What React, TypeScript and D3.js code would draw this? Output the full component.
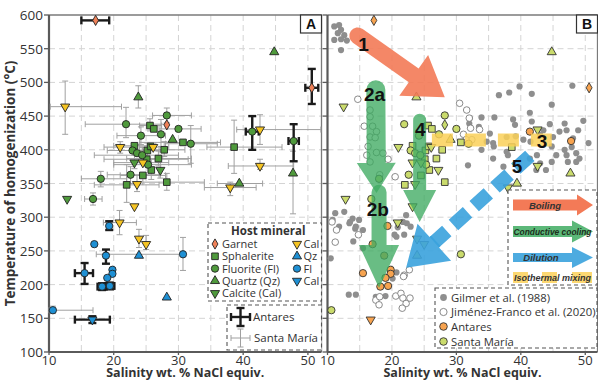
import * as d3 from 'd3';

// [salinity, Th, deposit (A = Antares, S = Santa María), xLo, xHi, yLo, yHi] — 0 means no bar
type Pt = [number, number, string, number, number, number, number];

const X_TICKS = [10, 20, 30, 40, 50];
const Y_TICKS = [100, 150, 200, 250, 300, 350, 400, 450, 500, 550, 600];
const X_GRID = [15, 20, 25, 30, 35, 40, 45, 50];
const Y_GRID = [150, 200, 250, 300, 350, 400, 450, 500, 550];

const GARNET: Pt[] = [
  [17.2, 592, 'A', 15.0, 19.3, 0, 0],
  [28.2, 437, 'S', 0, 0, 0, 0],
  [50.6, 492, 'A', 49.6, 51.6, 468, 520],
];
const SPHALERITE: Pt[] = [
  [25.6, 436, 'S', 24.0, 27.4, 428, 446],
  [26.2, 431, 'S', 0, 0, 0, 0],
  [30.7, 411, 'S', 24.0, 36.5, 0, 0],
  [38.6, 404, 'S', 34.4, 46.0, 365, 444],
  [23.2, 406, 'S', 20.0, 26.5, 0, 0],
  [25.2, 399, 'S', 0, 0, 388, 410],
  [25.7, 405, 'S', 0, 0, 0, 0],
  [27.8, 400, 'S', 24.5, 31.0, 390, 412],
  [25.1, 386, 'S', 18.5, 31.5, 0, 0],
  [26.9, 387, 'S', 22.0, 32.0, 376, 398],
  [25.8, 370, 'S', 0, 0, 356, 386],
  [24.5, 362, 'S', 21.0, 28.0, 0, 0],
  [28.2, 352, 'S', 24.5, 34.0, 340, 365],
  [22.0, 348, 'S', 17.0, 27.0, 322, 378],
];
const FLUORITE: Pt[] = [
  [21.9, 438, 'S', 15.6, 28.0, 418, 463],
  [28.2, 451, 'S', 26.0, 32.0, 440, 462],
  [30.0, 431, 'S', 27.0, 33.5, 0, 0],
  [24.2, 421, 'S', 20.5, 28.0, 408, 434],
  [27.3, 423, 'S', 0, 0, 405, 445],
  [31.9, 409, 'S', 28.0, 36.0, 380, 436],
  [22.9, 399, 'S', 19.0, 27.0, 0, 0],
  [23.6, 395, 'S', 0, 0, 0, 0],
  [24.4, 392, 'S', 17.0, 30.0, 380, 404],
  [25.3, 378, 'S', 20.0, 32.0, 0, 0],
  [22.6, 363, 'S', 19.0, 27.0, 350, 375],
  [18.0, 357, 'S', 15.0, 22.0, 345, 368],
  [16.8, 327, 'S', 15.5, 18.2, 318, 336],
  [41.4, 427, 'A', 40.4, 42.4, 400, 450],
  [47.8, 413, 'A', 47.0, 48.6, 383, 438],
];
const QUARTZ: Pt[] = [
  [23.8, 478, 'S', 0, 0, 462, 495],
  [44.8, 545, 'S', 0, 0, 0, 0],
  [29.1, 415, 'S', 0, 0, 0, 0],
  [39.4, 350, 'S', 36.0, 43.0, 0, 0],
  [47.7, 365, 'S', 0, 0, 305, 398],
];
const CALCITE: Pt[] = [
  [23.2, 381, 'S', 0, 0, 372, 392],
  [27.2, 370, 'S', 0, 0, 358, 388],
  [12.8, 327, 'S', 0, 0, 0, 0],
];
const CAL_YELLOW: Pt[] = [
  [12.5, 464, 'S', 10.2, 21.2, 423, 502],
  [21.0, 404, 'S', 18.5, 23.5, 395, 412],
  [26.1, 404, 'S', 24.0, 28.5, 0, 0],
  [24.5, 381, 'S', 20.0, 28.5, 0, 0],
  [23.6, 349, 'S', 0, 0, 338, 362],
  [23.2, 316, 'S', 0, 0, 0, 0],
  [38.0, 344, 'S', 34.0, 42.0, 332, 352],
  [42.6, 430, 'S', 39.0, 52.0, 408, 452],
  [42.6, 376, 'S', 37.7, 47.8, 371, 386],
  [20.9, 292, 'S', 18.4, 23.5, 274, 310],
  [23.9, 268, 'S', 0, 0, 255, 282],
  [25.0, 260, 'S', 0, 0, 252, 273],
];
const QZ_BLUE: Pt[] = [
  [23.9, 243, 'S', 0, 0, 0, 0],
  [28.2, 181, 'S', 0, 0, 0, 0],
];
const FL_BLUE: Pt[] = [
  [19.3, 287, 'A', 0, 0, 281, 294],
  [17.0, 260, 'A', 0, 0, 0, 0],
  [18.8, 243, 'A', 0, 0, 231, 252],
  [30.7, 245, 'S', 17.3, 30.7, 221, 270],
  [15.5, 217, 'A', 14.0, 16.8, 201, 232],
  [19.8, 222, 'A', 0, 0, 0, 0],
  [19.8, 216, 'A', 0, 0, 0, 0],
  [19.0, 210, 'A', 0, 0, 0, 0],
  [18.2, 197, 'A', 17.5, 18.9, 192, 202],
  [19.4, 198, 'A', 18.7, 20.1, 193, 203],
  [10.6, 162, 'S', 10.0, 16.8, 157, 168],
];
const CAL_BLUE: Pt[] = [[16.7, 148, 'A', 14.0, 19.4, 143, 153]];

// Panel B literature data
const GILMER: [number, number][] = [
  [11.05, 583], [11.8, 585], [12.1, 578], [11.6, 573], [12.6, 570], [11.05, 563], [12.1, 564], [13.0, 562], [12.1, 548],
  [36.6, 481], [38.2, 485], [39.8, 494], [41.7, 483], [48.0, 495], [44.8, 467], [33.9, 448], [35.9, 448], [32.1, 447],
  [32.0, 439], [38.8, 445], [39.1, 437], [41.4, 455], [41.7, 442], [44.5, 438], [46.8, 439], [49.7, 443], [45.0, 419],
  [43.5, 429], [46.0, 427], [47.1, 429], [48.9, 429], [34.7, 412], [35.7, 410], [40.4, 415], [41.5, 412], [44.8, 405],
  [46.8, 400], [47.9, 404], [45.5, 392], [47.1, 392], [48.6, 395], [35.7, 387], [38.0, 392], [41.4, 387], [44.8, 382],
  [47.3, 382], [48.6, 382], [43.0, 380], [31.8, 377], [37.3, 375], [43.9, 370], [33.5, 434], [35.2, 424], [37.8, 419],
  [39.2, 420], [43.0, 422], [42.4, 370], [33.9, 400], [35.8, 405], [37.8, 397], [42.5, 392], [49.1, 387], [48.1, 417],
  [50.5, 410],
  [12.6, 308], [13.9, 298], [13.4, 291], [14.9, 296], [14.4, 286], [15.5, 281], [10.8, 296], [11.8, 286], [20.9, 285],
  [21.7, 293], [22.2, 303], [22.9, 286], [21.9, 274], [20.4, 274], [15.5, 254], [10.5, 239], [11.2, 306], [13.5, 293],
  [14.3, 283], [14.0, 264], [20.7, 271], [22.3, 291], [13.3, 185], [14.4, 185], [17.5, 182], [19.0, 183], [20.7, 218],
  [20.1, 209],
];
const JIMENEZ: [number, number][] = [
  [14.7, 475], [16.6, 459], [16.6, 449], [15.7, 435], [17.0, 435], [17.6, 427], [16.6, 419], [17.4, 418], [16.3, 405],
  [17.6, 396], [18.6, 395], [16.1, 392], [16.6, 382], [19.4, 386], [18.1, 363], [20.5, 360], [30.5, 469], [31.6, 459],
  [32.0, 447], [32.2, 432], [33.6, 430], [31.1, 423], [32.4, 415], [31.5, 415], [10.7, 293], [11.4, 281], [11.2, 263],
  [14.8, 274], [21.9, 214], [22.7, 222], [21.8, 212], [20.6, 183], [21.4, 187], [21.7, 180], [22.2, 172], [21.6, 165],
  [22.8, 180], [17.5, 177], [18.0, 170], [18.1, 182],
];

// Process arrows of panel B: [x1, T1, x2, T2] in data units
const BOILING = [14.7, 569, 28.2, 478];
const COOLING_2A = [17.5, 489, 17.6, 336];
const COOLING_2B = [18.0, 337, 18.0, 195];
const COOLING_4 = [24.3, 444, 24.3, 293];
const MIXING_3 = [26.2, 44.8, 414.5];
const DILUTION_5 = [41.4, 391, 22.2, 225];
const ARROW_LABELS: [string, number, number][] = [
  ['1', 15.6, 547], ['2a', 17.3, 472], ['2b', 17.8, 302], ['4', 24.4, 420], ['3', 43.3, 402], ['5', 39.4, 365],
];

const SANS = "'Open Sans', 'Noto Sans', sans-serif";
const ARIAL = "'Liberation Sans', Arial, sans-serif";

const xA = d3.scaleLinear().domain([10, 52.1]).range([49, 321.5]);
const xB = d3.scaleLinear().domain([10, 51.9]).range([327.5, 597.5]);
const yS = d3.scaleLinear().domain([100, 600]).range([352, 15]);

const GREEN = '#4f9a3c';
const YELLOW = '#f5c423';
const BLUE = '#1e90d4';
const ORANGE = '#ef8158';
const ANT_FILL = '#f7a34f';
const SM_FILL = '#cadb6c';

const GROUPS = [
  { pts: GARNET, shape: 'diamond', fill: ORANGE },
  { pts: SPHALERITE, shape: 'square', fill: GREEN },
  { pts: FLUORITE, shape: 'circle', fill: GREEN },
  { pts: QUARTZ, shape: 'up', fill: GREEN },
  { pts: CALCITE, shape: 'down', fill: GREEN },
  { pts: CAL_YELLOW, shape: 'down', fill: YELLOW },
  { pts: QZ_BLUE, shape: 'up', fill: BLUE },
  { pts: FL_BLUE, shape: 'circle', fill: BLUE },
  { pts: CAL_BLUE, shape: 'down', fill: BLUE },
];

function symPath(shape: string) {
  const t =
    shape === 'circle' ? d3.symbolCircle
    : shape === 'square' ? d3.symbolSquare
    : shape === 'diamond' ? d3.symbolDiamond
    : d3.symbolTriangle;
  const size = shape === 'circle' ? 42 : shape === 'square' ? 44 : shape === 'diamond' ? 30 : 36;
  return d3.symbol().type(t).size(size)() as string;
}

function Marker({ x, y, shape, fill, stroke = '#222', sw = 0.9 }: any) {
  const rot = shape === 'down' ? ' rotate(180)' : '';
  return (
    <path d={symPath(shape)} transform={`translate(${x},${y})${rot}`} fill={fill} stroke={stroke} strokeWidth={sw} />
  );
}

function arrowPath(x1: number, y1: number, x2: number, y2: number, sw: number, hw: number, hl: number, round = true) {
  const L = Math.hypot(x2 - x1, y2 - y1);
  const ux = (x2 - x1) / L, uy = (y2 - y1) / L;
  const nx = -uy, ny = ux;
  const bx = x2 - ux * hl, by = y2 - uy * hl;
  const p = (a: number, b: number, k: number) => `${a + nx * k},${b + ny * k}`;
  const start = round
    ? `M${p(x1, y1, -sw / 2)} A${sw / 2},${sw / 2} 0 0 0 ${p(x1, y1, sw / 2)}`
    : `M${p(x1, y1, -sw / 2)} L${p(x1, y1, sw / 2)}`;
  return `${start} L${p(bx, by, sw / 2)} L${p(bx, by, hw / 2)} L${x2},${y2} L${p(bx, by, -hw / 2)} L${p(bx, by, -sw / 2)} Z`;
}

function ErrorBars({ x, pts, thick }: any) {
  const col = thick ? '#1b1b1b' : '#a0a0a0';
  const w = thick ? 2.4 : 1;
  const cap = thick ? 4 : 3;
  return (
    <g stroke={col} strokeWidth={w}>
      {pts.map((d: Pt, i: number) => {
        const cx = x(d[0]), cy = yS(d[1]);
        return (
          <g key={i}>
            {d[3] > 0 && (
              <>
                <line x1={x(d[3])} x2={x(d[4])} y1={cy} y2={cy} />
                <line x1={x(d[3])} x2={x(d[3])} y1={cy - cap} y2={cy + cap} />
                <line x1={x(d[4])} x2={x(d[4])} y1={cy - cap} y2={cy + cap} />
              </>
            )}
            {d[5] > 0 && (
              <>
                <line x1={cx} x2={cx} y1={yS(d[5])} y2={yS(d[6])} />
                <line x1={cx - cap} x2={cx + cap} y1={yS(d[5])} y2={yS(d[5])} />
                <line x1={cx - cap} x2={cx + cap} y1={yS(d[6])} y2={yS(d[6])} />
              </>
            )}
          </g>
        );
      })}
    </g>
  );
}

function Frame({ x, letter, yLabels }: any) {
  const [x0, x1] = x.range();
  const top = yS(600), bot = yS(100);
  return (
    <g>
      <rect x={x0} y={top} width={x1 - x0} height={bot - top} fill='#fff' />
      <g stroke='#d4d4d4' strokeWidth={1} strokeDasharray='6 4'>
        {X_GRID.map((v) => (
          <line key={'gx' + v} x1={x(v)} x2={x(v)} y1={top} y2={bot} />
        ))}
        {Y_GRID.map((v) => (
          <line key={'gy' + v} x1={x0} x2={x1} y1={yS(v)} y2={yS(v)} />
        ))}
      </g>
      <line x1={x0} x2={x1} y1={top} y2={top} stroke='#7a7a7a' strokeWidth={1.3} />
      <line x1={x1} x2={x1} y1={top} y2={bot} stroke='#7a7a7a' strokeWidth={1.3} />
      <line x1={x0} x2={x0} y1={top} y2={bot} stroke='#5a5a5a' strokeWidth={2.2} />
      <line x1={x0} x2={x1} y1={bot} y2={bot} stroke='#5a5a5a' strokeWidth={2.2} />
      {Y_TICKS.map((v) => (
        <line key={'ty' + v} x1={x0 - 5} x2={x0} y1={yS(v)} y2={yS(v)} stroke='#5a5a5a' strokeWidth={1.3} />
      ))}
      {X_TICKS.map((v) => (
        <line key={'tx' + v} x1={x(v)} x2={x(v)} y1={bot} y2={bot + 3} stroke='#5a5a5a' strokeWidth={1.3} />
      ))}
      {yLabels &&
        Y_TICKS.map((v) => (
          <text key={'ly' + v} x={x0 - 6} y={yS(v) + 5} textAnchor='end' fontSize={13.5} fill='#333' fontFamily={SANS}>
            {v}
          </text>
        ))}
      {X_TICKS.map((v) => (
        <text key={'lx' + v} x={x(v)} y={364.5} textAnchor='middle' fontSize={13} fill='#333' fontFamily={SANS}>
          {v}
        </text>
      ))}
      <text x={(x0 + x1) / 2} y={377} textAnchor='middle' fontSize={12.5} fontWeight='bold' fill='#333' fontFamily={SANS}>
        Salinity wt. % NaCl equiv.
      </text>
      <rect x={x1 - 21} y={top} width={21} height={18} fill='#fff' stroke='#333' strokeWidth={1.2} />
      <text x={x1 - 10.5} y={top + 14} textAnchor='middle' fontSize={14} fontWeight='bold' fill='#111' fontFamily={ARIAL}>
        {letter}
      </text>
    </g>
  );
}

function PanelA() {
  return (
    <g>
      <Frame x={xA} letter='A' yLabels />
      {GROUPS.map((g, i) => (
        <ErrorBars key={'t' + i} x={xA} pts={g.pts.filter((d) => d[2] === 'S')} thick={false} />
      ))}
      {GROUPS.map((g, i) => (
        <ErrorBars key={'k' + i} x={xA} pts={g.pts.filter((d) => d[2] === 'A')} thick />
      ))}
      {GROUPS.map((g, i) =>
        g.pts.map((d, j) => <Marker key={i + '-' + j} x={xA(d[0])} y={yS(d[1])} shape={g.shape} fill={g.fill} />)
      )}
      {/* Host mineral legend */}
      <rect x={208} y={223} width={113.5} height={78} fill='#fff' stroke='#555' strokeDasharray='4 3' strokeWidth={1.1} />
      <text x={231} y={235} fontSize={11.5} fontWeight='bold' fill='#333' fontFamily={SANS}>
        Host mineral
      </text>
      {[
        ['Garnet', 'diamond', ORANGE],
        ['Sphalerite', 'square', GREEN],
        ['Fluorite (Fl)', 'circle', GREEN],
        ['Quartz (Qz)', 'up', GREEN],
        ['Calcite (Cal)', 'down', GREEN],
      ].map(([t, s, f], i) => (
        <g key={t}>
          <Marker x={215} y={244 + i * 12.3} shape={s} fill={f} />
          <text x={222} y={248 + i * 12.3} fontSize={11} fill='#333' fontFamily={SANS}>
            {t}
          </text>
        </g>
      ))}
      {[
        ['Cal', 'down', YELLOW],
        ['Qz', 'up', BLUE],
        ['Fl', 'circle', BLUE],
        ['Cal', 'down', BLUE],
      ].map(([t, s, f], i) => (
        <g key={'r' + i}>
          <Marker x={297} y={244 + i * 12.3} shape={s} fill={f} />
          <text x={303.5} y={248 + i * 12.3} fontSize={11} fill='#333' fontFamily={SANS}>
            {t}
          </text>
        </g>
      ))}
      {/* Error-bar legend */}
      <rect x={227} y={305} width={94.5} height={45} fill='#fff' stroke='#555' strokeDasharray='4 3' strokeWidth={1.1} />
      <g stroke='#1b1b1b' strokeWidth={2.4}>
        <line x1={231} x2={250} y1={317} y2={317} />
        <line x1={231} x2={231} y1={313} y2={321} />
        <line x1={250} x2={250} y1={313} y2={321} />
        <line x1={240.5} x2={240.5} y1={308} y2={326} />
        <line x1={236.5} x2={244.5} y1={308} y2={308} />
        <line x1={236.5} x2={244.5} y1={326} y2={326} />
      </g>
      <text x={253} y={321} fontSize={11.5} fill='#333' fontFamily={SANS}>
        Antares
      </text>
      <g stroke='#a0a0a0' strokeWidth={1}>
        <line x1={231} x2={250} y1={338} y2={338} />
        <line x1={231} x2={231} y1={335} y2={341} />
        <line x1={250} x2={250} y1={335} y2={341} />
        <line x1={240.5} x2={240.5} y1={329} y2={347} />
        <line x1={237.5} x2={243.5} y1={329} y2={329} />
        <line x1={237.5} x2={243.5} y1={347} y2={347} />
      </g>
      <text x={254} y={342} fontSize={11.5} fill='#333' fontFamily={SANS}>
        Santa María
      </text>
    </g>
  );
}

function PanelB() {
  const [m0, m1, mT] = MIXING_3;
  const [d1x, d1y, d2x, d2y] = DILUTION_5;
  const X1 = xB(d1x), Y1 = yS(d1y), X2 = xB(d2x), Y2 = yS(d2y);
  const L = Math.hypot(X2 - X1, Y2 - Y1);
  const hl = 38;
  const bx = X2 - ((X2 - X1) / L) * hl, by = Y2 - ((Y2 - Y1) / L) * hl;
  const arr = (a: number[], sw: number, hw: number, hlen: number) =>
    arrowPath(xB(a[0]), yS(a[1]), xB(a[2]), yS(a[3]), sw, hw, hlen);
  return (
    <g>
      <Frame x={xB} letter='B' yLabels={false} />
      {GILMER.map((d, i) => (
        <circle key={'g' + i} cx={xB(d[0])} cy={yS(d[1])} r={3.1} fill='#8e8e8e' />
      ))}
      {JIMENEZ.map((d, i) => (
        <circle key={'j' + i} cx={xB(d[0])} cy={yS(d[1])} r={3.3} fill='#fff' stroke='#7d7d7d' strokeWidth={0.9} />
      ))}
      {GROUPS.map((g, i) =>
        g.pts.map((d, j) => (
          <Marker
            key={'b' + i + '-' + j}
            x={xB(d[0])}
            y={yS(d[1])}
            shape={g.shape}
            fill={d[2] === 'A' ? ANT_FILL : SM_FILL}
            stroke='#333'
          />
        ))
      )}
      {/* Process arrows */}
      <path d={arr(BOILING, 17, 50, 38)} fill='#f37a57' opacity={0.9} />
      <path d={arr(COOLING_2A, 19, 39, 30)} fill='#3fab62' opacity={0.78} />
      <path d={arr(COOLING_2B, 15, 40, 43)} fill='#3fab62' opacity={0.78} />
      <path d={arr(COOLING_4, 13, 33, 32)} fill='#3fab62' opacity={0.78} />
      <line
        x1={xB(m0)}
        x2={xB(m1)}
        y1={yS(mT)}
        y2={yS(mT)}
        stroke='#fbd159'
        strokeWidth={13}
        strokeDasharray='21 12'
        opacity={0.85}
      />
      <line x1={X1} y1={Y1} x2={bx} y2={by} stroke='#3aa2dd' strokeWidth={14} strokeDasharray='19 9' opacity={0.9} />
      <path
        d={arrowPath(bx - ((X2 - X1) / L) * 2, by - ((Y2 - Y1) / L) * 2, X2, Y2, 14, 50, hl, false)}
        fill='#3aa2dd'
        opacity={0.9}
      />
      {ARROW_LABELS.map(([t, x, y]) => (
        <text key={t} x={xB(x)} y={yS(y)} textAnchor='middle' fontSize={19} fontWeight='bold' fill='#111' fontFamily={ARIAL}>
          {t}
        </text>
      ))}
      {/* Process legend */}
      <rect x={508} y={190} width={89} height={95} fill='#fff' stroke='#555' strokeDasharray='4 3' strokeWidth={1.1} />
      <path d={arrowPath(513, 205, 593, 205, 11, 21, 16, false)} fill='#f37a57' />
      <text x={545} y={208.5} textAnchor='middle' fontSize={9.5} fontStyle='italic' fontWeight='bold' fill='#333' fontFamily={ARIAL}>
        Boiling
      </text>
      <path d={arrowPath(513, 231.5, 593, 231.5, 11, 22, 21, false)} fill='#3fab62' opacity={0.85} />
      <text x={513.5} y={235} fontSize={9} fontStyle='italic' fontWeight='bold' fill='#1c2e1c' fontFamily={ARIAL} textLength={78} lengthAdjust='spacingAndGlyphs'>
        Conductive cooling
      </text>
      <path d={arrowPath(513, 257.5, 593, 257.5, 9, 21, 21, false)} fill='#3aa2dd' opacity={0.9} />
      <text x={541} y={261} textAnchor='middle' fontSize={9.5} fontStyle='italic' fontWeight='bold' fill='#333' fontFamily={ARIAL}>
        Dilution
      </text>
      {[513, 542, 572].map((v, i) => (
        <rect key={'ym' + i} x={v} y={272} width={i === 2 ? 20 : 15} height={11} fill='#fbd159' opacity={0.85} />
      ))}
      <text x={514} y={281} fontSize={9} fontStyle='italic' fontWeight='bold' fill='#333' fontFamily={ARIAL} textLength={77} lengthAdjust='spacingAndGlyphs'>
        Isothermal mixing
      </text>
      {/* Data source legend */}
      <rect x={435} y={288} width={162} height={60} fill='#fff' stroke='#555' strokeDasharray='4 3' strokeWidth={1.1} />
      <circle cx={443.5} cy={297.5} r={3.4} fill='#8e8e8e' />
      <circle cx={443.5} cy={312} r={3.6} fill='#fff' stroke='#7d7d7d' strokeWidth={0.9} />
      <circle cx={443.5} cy={326.5} r={3.8} fill={ANT_FILL} stroke='#333' strokeWidth={0.9} />
      <circle cx={443.5} cy={341.5} r={3.8} fill={SM_FILL} stroke='#333' strokeWidth={0.9} />
      {['Gilmer et al. (1988)', 'Jiménez-Franco et al. (2020)', 'Antares', 'Santa María'].map((t, i) => (
        <text key={t} x={451} y={301.5 + i * 14.7} fontSize={11.3} fill='#333' fontFamily={SANS}>
          {t}
        </text>
      ))}
    </g>
  );
}

export default function App() {
  return (
    <svg width={598} height={380} style={{ position: 'fixed', left: 0, top: 0, background: '#fff' }}>
      <rect width={598} height={380} fill='#fff' />
      <PanelB />
      <PanelA />
      <text
        transform={`translate(15,${yS(350)}) rotate(-90)`}
        textAnchor='middle'
        fontSize={13.5}
        fontWeight='bold'
        fill='#333'
        fontFamily={SANS}
      >
        Temperature of homogenization (°C)
      </text>
    </svg>
  );
}
